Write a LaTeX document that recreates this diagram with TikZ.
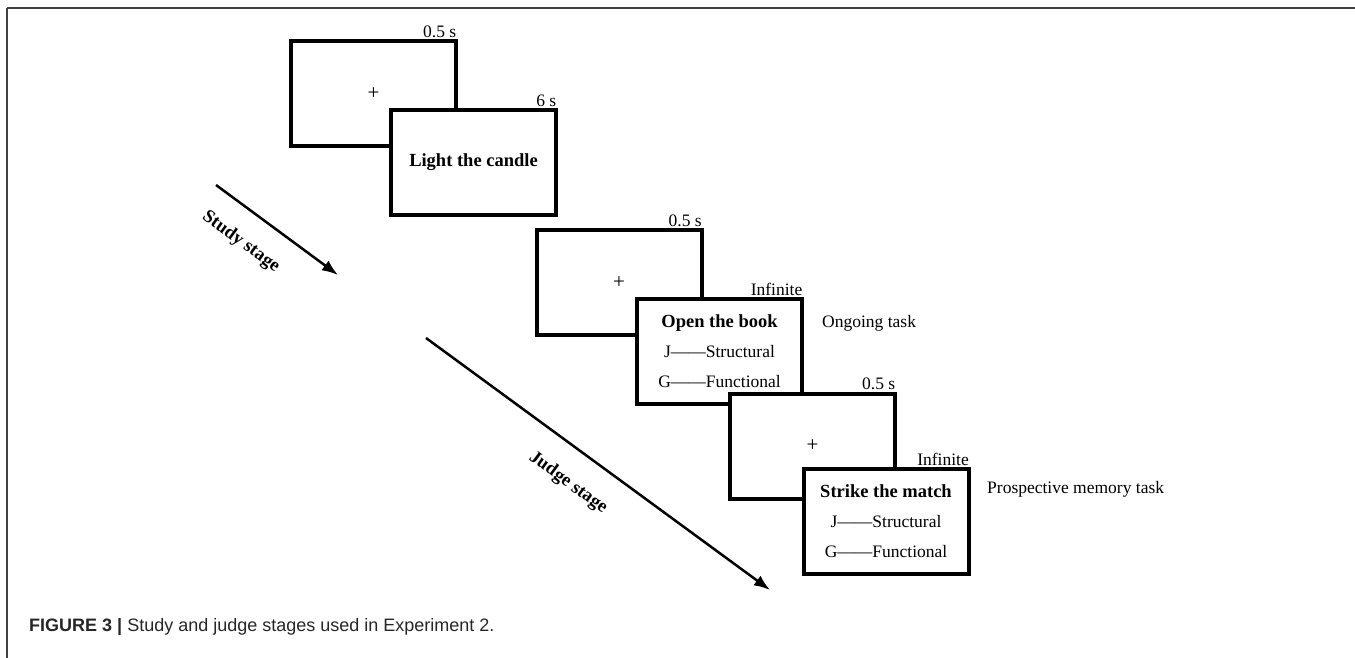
\documentclass[tikz,border=0pt]{standalone}
\usepackage{fontspec}
\setmainfont{Liberation Serif}
\newfontfamily\capfont{Liberation Sans}
\usetikzlibrary{arrows.meta}

\begin{document}
\begin{tikzpicture}[x=1pt, y=-1pt,
  screen/.style={draw, fill=white, line width=4pt, minimum width=165pt, minimum height=105pt,
    inner sep=0pt, align=center, font=\fontsize{17.5}{30}\selectfont},
  cross/.style={screen, font=\fontsize{21}{24}\selectfont},
  dur/.style={anchor=south east, inner sep=1.5pt, font=\fontsize{17.5}{20}\selectfont},
  task/.style={anchor=west, inner sep=0pt, font=\fontsize{17.5}{20}\selectfont},
  stage/.style={-{Latex[length=16pt,width=12pt]}, line width=2.5pt},
  stagename/.style={sloped, inner sep=0pt, font=\fontsize{18.5}{20}\selectfont\bfseries}]
\useasboundingbox (0,0) rectangle (1355,658);
\draw[black!75, line width=2pt] (7,8) -- (1355,8);
\draw[black!75, line width=1.2pt] (7,8) -- (7,658);

% study stage
\node[cross] (fix1) at (373.5,94) {+};
\node[dur] (t1) at (fix1.north east) {0.5 s};
\node[screen] (cue) at (473.5,162.5) {\fontsize{18.5}{20}\selectfont\bfseries Light the candle};
\node[dur] (t2) at (cue.north east) {6 s};

% judge stage
\node[cross] (fix2) at (619,282.5) {+};
\node[dur] (t3) at (fix2.north east) {0.5 s};
\node[screen] (ongoing) at (719.5,351.5) {{\fontsize{18.5}{30}\selectfont\bfseries Open the book}\\
  J\textemdash\textemdash Structural\\ G\textemdash\textemdash Functional};
\node[dur] (t4) at (ongoing.north east) {Infinite};
\node[task] (ogtask) at (822,323) {Ongoing task};
\node[cross] (fix3) at (812.5,446) {+};
\node[dur] (t5) at (fix3.north east) {0.5 s};
\node[screen] (pm) at (886,521.5) {{\fontsize{18.5}{30}\selectfont\bfseries Strike the match}\\
  J\textemdash\textemdash Structural\\ G\textemdash\textemdash Functional};
\node[dur] (t6) at (pm.north east) {Infinite};
\node[task] (pmtask) at (987,489) {Prospective memory task};

\coordinate (studyfrom) at (216,185);
\coordinate (studyto) at (338,275);
\coordinate (judgefrom) at (426,338);
\coordinate (judgeto) at (770,590);
\draw[stage] (studyfrom) -- node[stagename, pos=0.355, yshift=-31pt] (studylbl) {Study stage} (studyto);
\draw[stage] (judgefrom) -- node[stagename, pos=0.47, yshift=-33pt] (judgelbl) {Judge stage} (judgeto);

\node[anchor=west, inner sep=0pt, text=black!85, font=\capfont\fontsize{18}{20}\selectfont] (caption)
  at (29,627) {\textbf{FIGURE 3 |} Study and judge stages used in Experiment 2.};
\end{tikzpicture}
\end{document}
